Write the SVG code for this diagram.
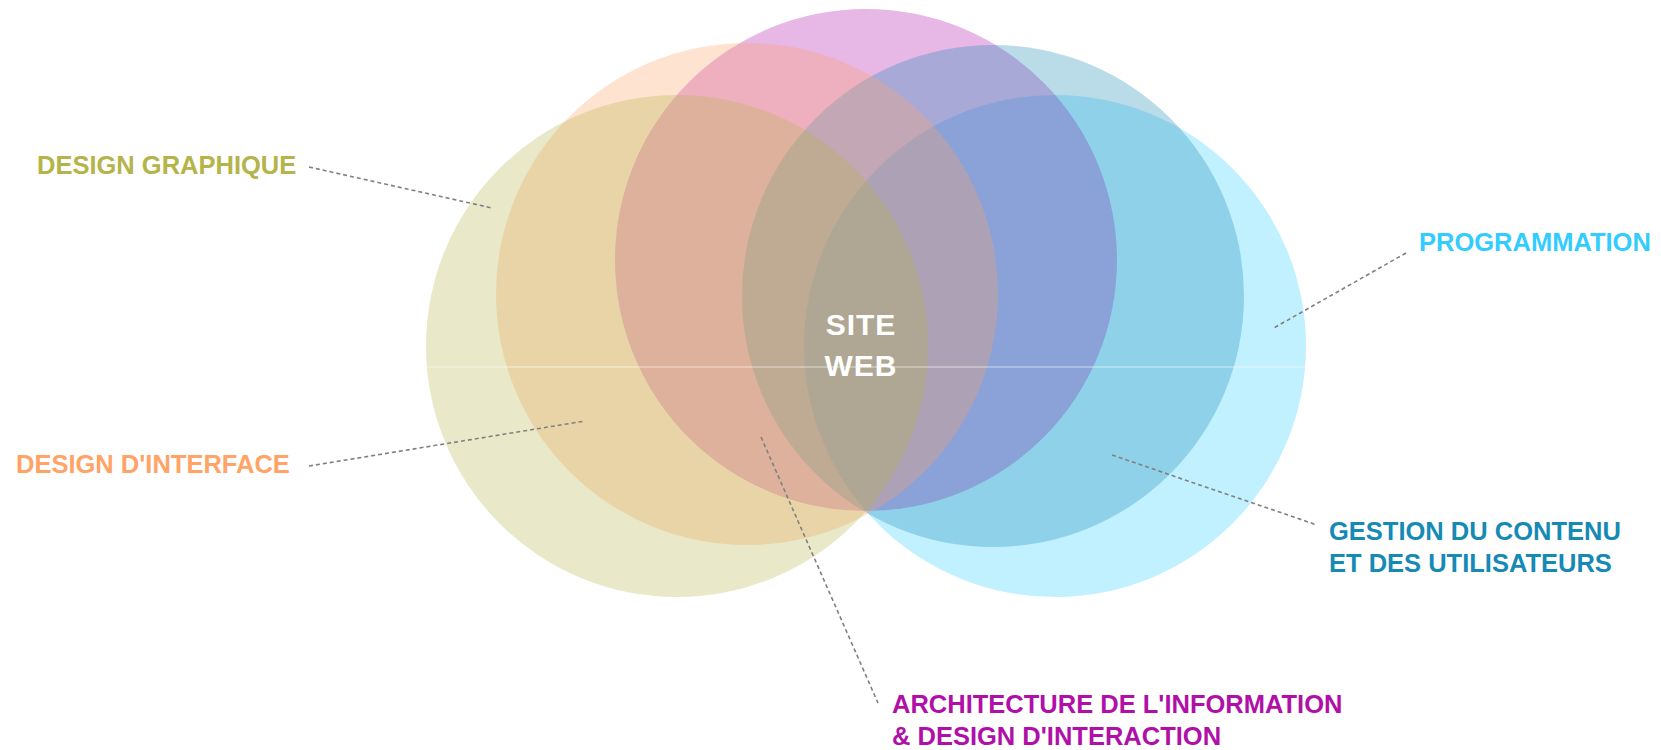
<svg xmlns="http://www.w3.org/2000/svg" width="1661" height="750" viewBox="0 0 1661 750">
<style>
.c{opacity:0.3}
.lbl{font-family:"Liberation Sans",Arial,sans-serif;font-weight:bold;font-size:25.5px}
.lead{fill:none;stroke:#808080;stroke-width:1.6;stroke-dasharray:4 3}
</style>
<rect width="1661" height="750" fill="#ffffff"/>
<g id="circles">
<circle id="c-programmation" class="c" cx="1055" cy="346" r="251" fill="#33CCFF"/>
<circle id="c-architecture" class="c" cx="866" cy="260" r="251" fill="#B010A8"/>
<circle id="c-gestion" class="c" cx="993" cy="296" r="251" fill="#1A8AB5"/>
<circle id="c-interface" class="c" cx="747" cy="294" r="251" fill="#FFA366"/>
<circle id="c-graphique" class="c" cx="677" cy="346" r="251" fill="#B5B44A"/>
</g>
<line x1="426" y1="367" x2="1306" y2="367" stroke="#ffffff" stroke-opacity="0.6" stroke-width="1"/>
<g id="connectors">
<line class="lead" x1="309" y1="167" x2="492" y2="208"/>
<line class="lead" x1="309" y1="466" x2="585" y2="421"/>
<line class="lead" x1="1406" y1="253" x2="1272" y2="329"/>
<line class="lead" x1="1112" y1="455" x2="1317" y2="525"/>
<line class="lead" x1="761" y1="437" x2="878" y2="703"/>
</g>
<g id="site-web">
<text class="lbl" x="861" y="335" text-anchor="middle" fill="#ffffff" style="font-size:30px;letter-spacing:1px">SITE</text>
<text class="lbl" x="861" y="376" text-anchor="middle" fill="#ffffff" style="font-size:30px;letter-spacing:1px">WEB</text>
</g>
<g id="design-graphique">
<text class="lbl" x="37" y="174" fill="#B5B44A">DESIGN GRAPHIQUE</text>
</g>
<g id="design-interface">
<text class="lbl" x="16" y="473" fill="#FFA366">DESIGN D'INTERFACE</text>
</g>
<g id="programmation">
<text class="lbl" x="1419" y="251" fill="#33CCFF">PROGRAMMATION</text>
</g>
<g id="gestion">
<text class="lbl" x="1329" y="540" fill="#168AB5">GESTION DU CONTENU</text>
<text class="lbl" x="1329" y="572" fill="#168AB5">ET DES UTILISATEURS</text>
</g>
<g id="architecture">
<text class="lbl" x="892" y="713" fill="#B010A8">ARCHITECTURE DE L'INFORMATION</text>
<text class="lbl" x="892" y="745" fill="#B010A8">&amp; DESIGN D'INTERACTION</text>
</g>
</svg>
